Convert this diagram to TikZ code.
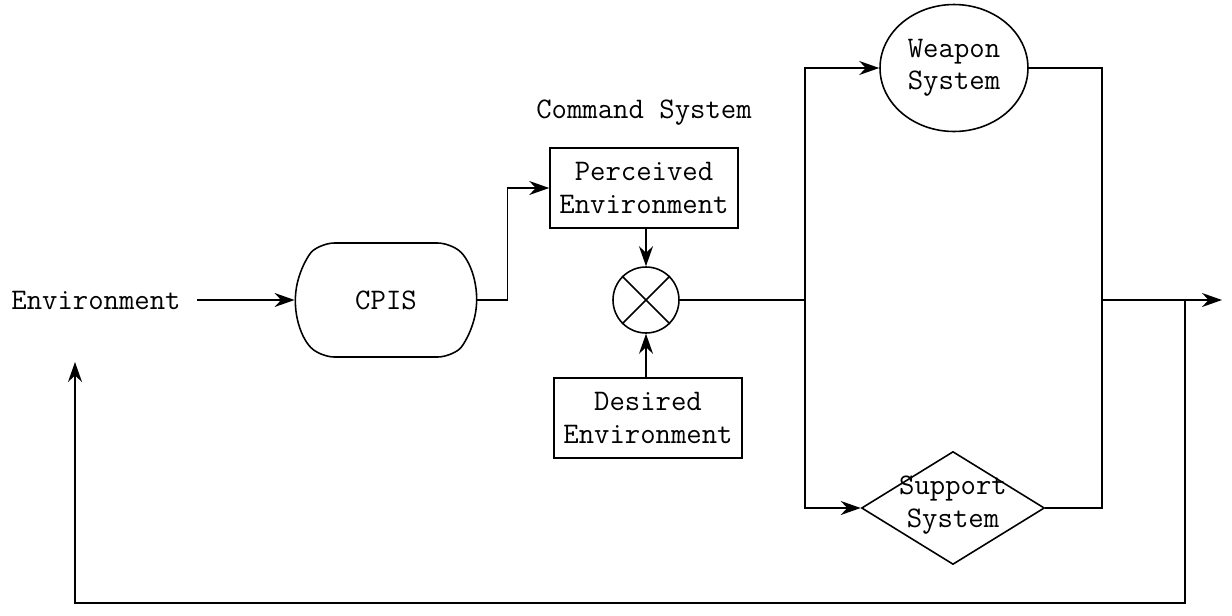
\documentclass[tikz,border=0pt]{standalone}
\usepackage{fontspec}
\usepackage{tikz}
\usetikzlibrary{positioning,calc,arrows,arrows.meta,shapes.misc,shapes.geometric}

\begin{document}
\begin{tikzpicture}[x=0.02cm,y=-0.02cm,line width=0.9pt,font=\ttfamily\fontsize{17}{18.5}\selectfont]
  \tikzstyle{box} = [draw, rectangle, align=center, inner sep=0pt, minimum width=3.76cm, minimum height=1.6cm]
  \tikzstyle{arr} = [-{Stealth[length=4mm,width=2.8mm]}]
  \useasboundingbox (0,0) rectangle (1232,616);
  % blocks
  \node[inner xsep=9pt] (env) at (96,300) {Environment};
  \node[draw, rounded rectangle, rounded rectangle arc length=100, rounded corners=7pt, minimum width=3.86cm, minimum height=2.28cm] (cpis) at (386,300) {CPIS};
  \node[box] (perc) at (644,188) {Perceived\\Environment};
  \node[above=0.3cm of perc] (cmd) {Command System};
  \node[draw, circle, inner sep=0pt, minimum size=1.32cm] (cmp) at (646,300) {};
  \draw (cmp.45) -- (cmp.225) (cmp.135) -- (cmp.-45);
  \node[box] (des) at (648,418) {Desired\\Environment};
  \node[draw, ellipse, inner sep=0pt, minimum width=2.96cm, minimum height=2.54cm, align=center] (weap) at (954,68) {Weapon\\System};
  \node[draw, diamond, inner sep=0pt, minimum width=3.66cm, minimum height=2.26cm] (supp) at (953,508) {};
  \node[align=center] (supptxt) at (953,505) {Support\\System};
  % branch points
  \coordinate (split) at (805,300);
  \coordinate (join) at (1102,300);
  \coordinate (tap) at (1185,300);
  \coordinate (out) at (1222,300);
  \coordinate (back) at (75,362);
  % connectors
  \draw[arr] (env) -- (cpis);
  \draw[arr] (cpis.east) -- ++(30,0) |- (perc.west);
  \draw[arr] (perc.south -| cmp) -- (cmp.north);
  \draw[arr] (des.north -| cmp) -- (cmp.south);
  \draw (cmp.east) -- (split);
  \draw[arr] (split) |- (weap.west);
  \draw[arr] (split) |- (supp.west);
  \draw (weap.east) -| (join);
  \draw (supp.east) -| (join);
  \draw[arr] (join) -- (out);
  \draw[arr] (tap) -- ++(0,303) -| (back);
\end{tikzpicture}
\end{document}
